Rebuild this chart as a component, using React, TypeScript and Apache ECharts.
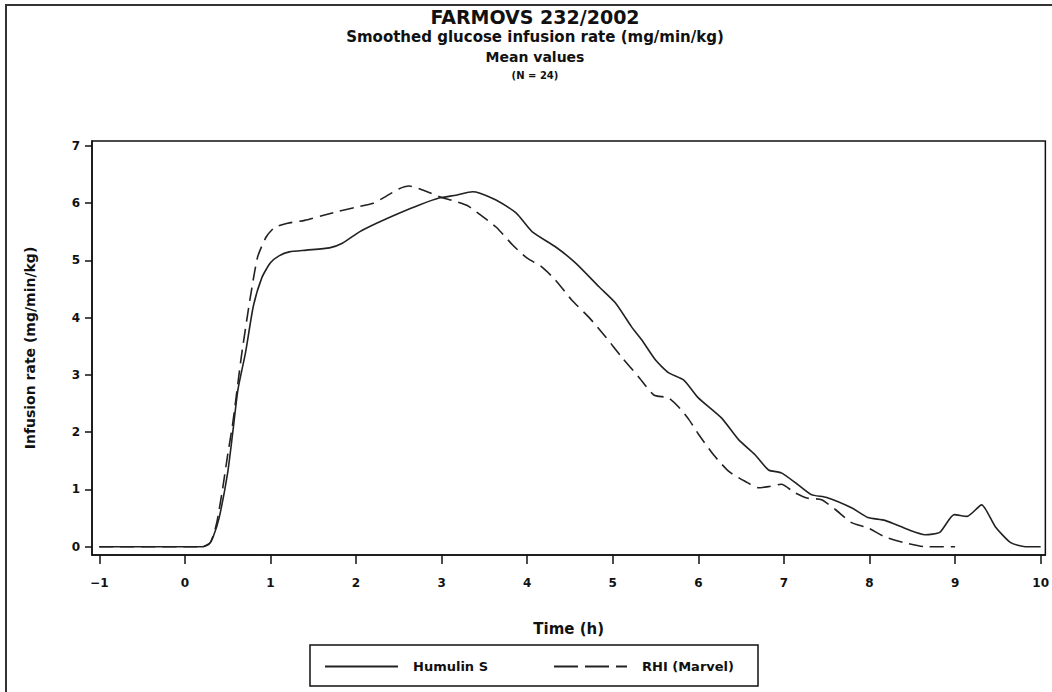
import React, { useEffect, useRef } from 'react';
import * as echarts from 'echarts';

const TITLE_LINES = [
  'FARMOVS 232/2002',
  'Smoothed glucose infusion rate (mg/min/kg)',
  'Mean values',
  '(N = 24)',
];
const X_TITLE = 'Time (h)';
const Y_TITLE = 'Infusion rate (mg/min/kg)';
const SERIES_NAMES = ['Humulin S', 'RHI (Marvel)'];

const X_TICKS = [-1, 0, 1, 2, 3, 4, 5, 6, 7, 8, 9, 10];
const Y_TICKS = [0, 1, 2, 3, 4, 5, 6, 7];

const humulinTime = [
  -1, 0.2, 0.28, 0.33, 0.4, 0.5, 0.56, 0.62, 0.71, 0.8, 0.9, 1.0, 1.1, 1.22, 1.42, 1.69, 1.84,
  2.04, 2.24, 2.51, 2.74, 2.97, 3.17, 3.36, 3.44, 3.63, 3.87, 4.06, 4.33, 4.57, 4.84, 5.03,
  5.22, 5.34, 5.5, 5.65, 5.83, 6.0, 6.27, 6.47, 6.66, 6.82, 6.97, 7.15, 7.32, 7.5, 7.79, 7.98,
  8.18, 8.45, 8.65, 8.82, 8.99, 9.14, 9.31, 9.47, 9.65, 9.82, 10,
];
const humulinRate = [
  0, 0, 0.04, 0.17, 0.5, 1.29, 2.0, 2.74, 3.4, 4.2, 4.7, 4.96, 5.08, 5.15, 5.18, 5.22, 5.3,
  5.5, 5.65, 5.83, 5.97, 6.09, 6.14, 6.2, 6.18, 6.06, 5.83, 5.5, 5.24, 4.95, 4.54, 4.26,
  3.84, 3.61, 3.26, 3.04, 2.91, 2.6, 2.25, 1.87, 1.61, 1.34, 1.29, 1.1, 0.91, 0.86, 0.68, 0.51,
  0.46, 0.3, 0.21, 0.25, 0.56, 0.53, 0.73, 0.35, 0.07, 0.0, 0,
];

const rhiTime = [
  -1, 0.2, 0.3, 0.37, 0.44, 0.5, 0.56, 0.66, 0.76, 0.85, 0.95, 1.05, 1.2, 1.4, 1.6, 1.8, 2.0,
  2.2, 2.35, 2.5, 2.62, 2.78, 3.0, 3.15, 3.3, 3.45, 3.64, 3.83, 4.0, 4.16, 4.33, 4.52, 4.72,
  4.92, 5.1, 5.3, 5.48, 5.65, 5.77, 5.89, 6.0, 6.18, 6.36, 6.55, 6.7, 6.82, 6.97, 7.12, 7.27,
  7.44, 7.6, 7.79, 7.98, 8.18, 8.41, 8.65, 9.0,
];
const rhiRate = [
  0, 0, 0.08, 0.4, 1.0, 1.6, 2.16, 3.32, 4.31, 5.06, 5.41, 5.58, 5.65, 5.7, 5.78, 5.86, 5.93,
  6.0, 6.12, 6.25, 6.3, 6.23, 6.1, 6.04, 5.96, 5.8, 5.58, 5.27, 5.04, 4.9, 4.66, 4.31, 4.01,
  3.66, 3.32, 2.97, 2.65, 2.6, 2.44, 2.22, 1.97, 1.6, 1.31, 1.14, 1.03, 1.05, 1.09, 0.95, 0.85,
  0.82, 0.65, 0.42, 0.33, 0.17, 0.07, 0.0, 0.0,
];

const FONT = '"DejaVu Sans", "Liberation Sans", sans-serif';
const INK = '#111';
const LINE = '#222';

const SOLID_ICON = 'path://M0,0H73V2H0Z';
const DASH_ICON = 'path://M0,0H24V2H0ZM31,0H55V2H31ZM62,0H73V2H62Z';

function pairs(t: number[], v: number[]) {
  return t.map((x, i) => [x, v[i]]);
}

export default function App() {
  const ref = useRef<HTMLDivElement>(null);

  useEffect(() => {
    if (!ref.current) return;
    const chart = echarts.init(ref.current, undefined, { renderer: 'svg' });
    const titleSizes = [19, 15, 14, 10];
    const titleY = [17, 37, 57, 75];
    chart.setOption({
      animation: false,
      backgroundColor: '#fff',
      textStyle: { fontFamily: FONT, fontWeight: 'bold', color: INK },
      grid: {
        left: 92,
        right: 5,
        top: 141,
        bottom: 137,
        show: true,
        borderColor: INK,
        borderWidth: 1.5,
        containLabel: false,
      },
      xAxis: {
        type: 'value',
        min: -1.085,
        max: 10.055,
        name: X_TITLE,
        nameLocation: 'middle',
        nameGap: 66,
        nameTextStyle: { fontFamily: FONT, fontWeight: 'bold', fontSize: 15, color: INK },
        axisLine: { show: true, onZero: false, lineStyle: { color: INK, width: 1.5 } },
        axisTick: { show: true, length: 9, lineStyle: { color: INK, width: 1.5 }, customValues: X_TICKS },
        axisLabel: {
          customValues: X_TICKS,
          margin: 22,
          fontFamily: FONT,
          fontWeight: 'bold',
          fontSize: 12,
          color: INK,
          formatter: (v: number) => (v < 0 ? '\u2212' + Math.abs(v) : String(v)),
        },
        splitLine: { show: false },
      },
      yAxis: {
        type: 'value',
        min: -0.145,
        max: 7.087,
        name: Y_TITLE,
        nameLocation: 'middle',
        nameGap: 55,
        nameRotate: 90,
        nameTextStyle: { fontFamily: FONT, fontWeight: 'bold', fontSize: 14, color: INK },
        axisLine: { show: true, onZero: false, lineStyle: { color: INK, width: 1.5 } },
        axisTick: { show: true, length: 7, lineStyle: { color: INK, width: 1.5 }, customValues: Y_TICKS },
        axisLabel: {
          customValues: Y_TICKS,
          margin: 12,
          fontFamily: FONT,
          fontWeight: 'bold',
          fontSize: 12,
          color: INK,
        },
        splitLine: { show: false },
      },
      legend: {
        left: 325,
        top: 660,
        padding: 0,
        itemWidth: 73,
        itemHeight: 2,
        itemGap: 66,
        textStyle: { fontFamily: FONT, fontWeight: 'bold', fontSize: 13, color: INK, padding: [0, 0, 5, 10] },
        data: [
          { name: SERIES_NAMES[0], icon: SOLID_ICON, itemStyle: { color: LINE } },
          { name: SERIES_NAMES[1], icon: DASH_ICON, itemStyle: { color: LINE } },
        ],
      },
      series: [
        {
          name: SERIES_NAMES[0],
          type: 'line',
          data: pairs(humulinTime, humulinRate),
          showSymbol: false,
          symbol: 'none',
          smooth: 0.2,
          lineStyle: { color: LINE, width: 1.6, type: 'solid' },
          itemStyle: { color: LINE },
        },
        {
          name: SERIES_NAMES[1],
          type: 'line',
          data: pairs(rhiTime, rhiRate),
          showSymbol: false,
          symbol: 'none',
          smooth: 0.2,
          lineStyle: { color: LINE, width: 1.6, type: [14, 7] },
          itemStyle: { color: LINE },
        },
      ],
      graphic: [
        { type: 'line', shape: { x1: 5, y1: 5, x2: 1052, y2: 5 }, style: { stroke: '#333', lineWidth: 2 } },
        { type: 'line', shape: { x1: 6, y1: 5, x2: 6, y2: 692 }, style: { stroke: '#333', lineWidth: 2 } },
        {
          type: 'rect',
          shape: { x: 310, y: 645, width: 448, height: 41 },
          style: { fill: 'none', stroke: INK, lineWidth: 1.5 },
        },
        ...TITLE_LINES.map((t, i) => ({
          type: 'text',
          x: 535,
          y: titleY[i],
          style: {
            text: t,
            fill: INK,
            font: `bold ${titleSizes[i]}px ${FONT}`,
            align: 'center',
            verticalAlign: 'middle',
          },
        })),
      ],
    });
    return () => chart.dispose();
  }, []);

  return (
    <div
      ref={ref}
      style={{ position: 'fixed', left: 0, top: 0, width: 1052, height: 692, background: '#fff' }}
    />
  );
}
